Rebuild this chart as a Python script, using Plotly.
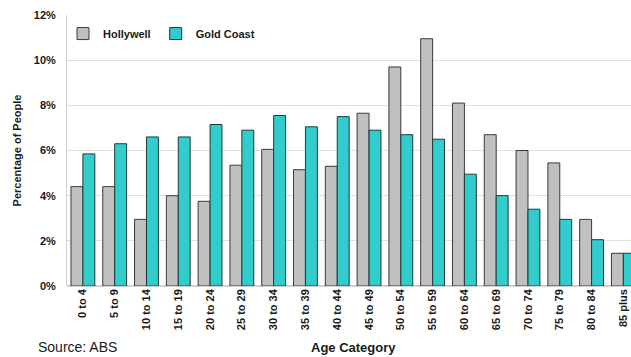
import plotly.graph_objects as go

# Age distribution, percentage of people in each age band
categories = ["0 to 4", "5 to 9", "10 to 14", "15 to 19", "20 to 24", "25 to 29",
              "30 to 34", "35 to 39", "40 to 44", "45 to 49", "50 to 54", "55 to 59",
              "60 to 64", "65 to 69", "70 to 74", "75 to 79", "80 to 84", "85 plus"]
hollywell = [4.4, 4.4, 2.95, 4.0, 3.75, 5.35, 6.05, 5.15, 5.3, 7.65, 9.7, 10.95,
             8.1, 6.7, 6.0, 5.45, 2.95, 1.45]
gold_coast = [5.85, 6.3, 6.6, 6.6, 7.15, 6.9, 7.55, 7.05, 7.5, 6.9, 6.7, 6.5,
              4.95, 4.0, 3.4, 2.95, 2.05, 1.45]
y_ticks = [0, 2, 4, 6, 8, 10, 12]
y_tick_text = ["0%", "2%", "4%", "6%", "8%", "10%", "12%"]

FONT = "Liberation Sans, Arial, sans-serif"
W, H = 631, 357
M_L, M_R, M_T, M_B = 67, 0, 15, 71
PW, PH = W - M_L - M_R, H - M_T - M_B


def px_x(x):
    return (x - M_L) / PW


def px_y(y):
    return (H - M_B - y) / PH


fig = go.Figure()
fig.add_trace(go.Bar(
    name="Hollywell", x=categories, y=hollywell,
    marker=dict(color="#c0c0c0", line=dict(color="#3a3a3a", width=1)),
))
fig.add_trace(go.Bar(
    name="Gold Coast", x=categories, y=gold_coast,
    marker=dict(color="#33cccc", line=dict(color="#1f3a3a", width=1)),
))

fig.update_layout(
    width=W, height=H,
    margin=dict(l=M_L, r=M_R, t=M_T, b=M_B),
    paper_bgcolor="white", plot_bgcolor="white",
    barmode="group", bargap=0.25, bargroupgap=0,
    font=dict(family=FONT, size=11, color="#1a1a1a"),
    showlegend=True,
    legend=dict(
        orientation="h", x=px_x(63), y=0.985, xanchor="left", yanchor="top",
        bgcolor="rgba(0,0,0,0)", itemwidth=30, tracegroupgap=0,
        font=dict(family=FONT, size=11, color="#1a1a1a", weight="bold"),
        itemclick=False, itemdoubleclick=False,
    ),
    xaxis=dict(
        type="category", range=[-0.5, 17.24],
        tickangle=-90, ticks="", showgrid=False, showline=False,
        tickfont=dict(family=FONT, size=11, color="#1a1a1a", weight="bold"),
    ),
    yaxis=dict(
        range=[0, 12], tickvals=y_ticks, ticktext=y_tick_text,
        showgrid=True, gridcolor="#e0e0e0", gridwidth=1,
        showline=True, linecolor="#d0d0d0", linewidth=1,
        zeroline=True, zerolinecolor="#d0d0d0", ticks="", ticklabelstandoff=8,
        tickfont=dict(family=FONT, size=11, color="#1a1a1a", weight="bold"),
        title=dict(text="Percentage of People", standoff=9,
                   font=dict(family=FONT, size=11, color="#1a1a1a", weight="bold")),
    ),
)

# Axis title below the rotated age labels
fig.add_annotation(
    text="Age Category", xref="paper", yref="paper",
    x=px_x(353), y=px_y(347),
    xanchor="center", yanchor="middle", showarrow=False,
    font=dict(family=FONT, size=13, color="#1a1a1a", weight="bold"),
)
# Source note at the foot of the chart
fig.add_annotation(
    text="Source: ABS", xref="paper", yref="paper",
    x=px_x(36), y=px_y(347),
    xanchor="left", yanchor="middle", showarrow=False,
    font=dict(family=FONT, size=14, color="#1a1a1a"),
)

fig.write_html("out.html")
